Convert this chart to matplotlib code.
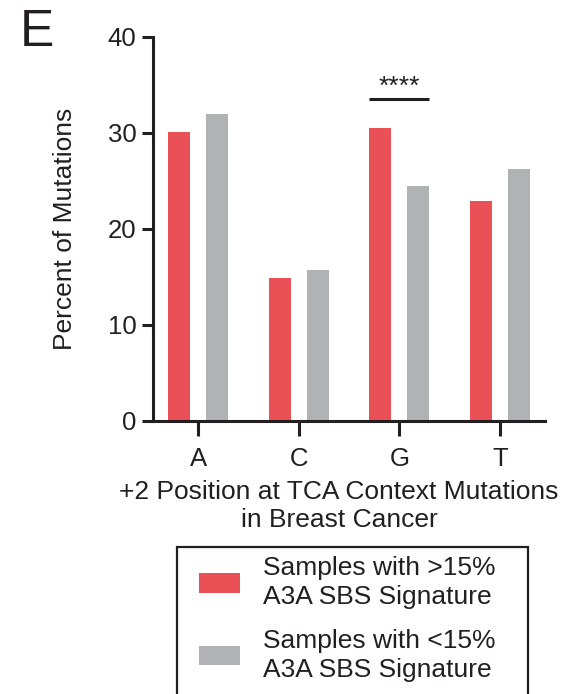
import numpy as np
import matplotlib
matplotlib.use('Agg')
import matplotlib.pyplot as plt
from matplotlib.patches import Rectangle

# data
bases = ['A', 'C', 'G', 'T']
high_a3a = [30.1, 14.9, 30.5, 22.9]   # samples with >15% A3A SBS signature
low_a3a = [32.0, 15.7, 24.5, 26.2]    # samples with <15% A3A SBS signature
sig_label = '****'
sig_base = 'G'
sig_height = 33.5

red = '#E95156'
gray = '#B1B2B4'
ink = '#231F20'

plt.rcParams['font.family'] = ['Liberation Sans', 'DejaVu Sans']
plt.rcParams['text.color'] = ink

fig = plt.figure(figsize=(5.64, 6.94), dpi=100)
ax = fig.add_axes([153 / 564, 1 - 421 / 694, (545 - 153) / 564, (421 - 37) / 694])

x = np.arange(len(bases))
w = 0.216
off = 0.19
b1 = ax.bar(x - off, high_a3a, w, color=red, label='Samples with >15%\nA3A SBS Signature')
b2 = ax.bar(x + off, low_a3a, w, color=gray, label='Samples with <15%\nA3A SBS Signature')

# significance bar
g = bases.index(sig_base)
ax.plot([g - off - w / 2, g + off + w / 2], [sig_height, sig_height], color=ink, lw=2.2,
        solid_capstyle='butt', clip_on=False)
ax.text(g, sig_height + 0.05, sig_label, ha='center', va='bottom', fontsize=19, color=ink)

ax.set_xlim(-0.45, 3.45)
ax.set_ylim(0, 40)
ax.set_yticks([0, 10, 20, 30, 40])
ax.set_xticks(x)
ax.set_xticklabels(bases)

for s in ['top', 'right']:
    ax.spines[s].set_visible(False)
for s in ['left', 'bottom']:
    ax.spines[s].set_linewidth(2.2)
    ax.spines[s].set_color(ink)
    ax.spines[s].set_capstyle('projecting')

ax.tick_params(axis='x', length=11, width=2.2, color=ink, labelsize=18.5, labelcolor=ink, pad=8)
ax.tick_params(axis='y', length=8, width=2.2, color=ink, labelsize=18.5, labelcolor=ink, pad=4)

ax.set_ylabel('Percent of Mutations', fontsize=19, color=ink, labelpad=22)
ax.set_xlabel('+2 Position at TCA Context Mutations\nin Breast Cancer', fontsize=19,
              color=ink, labelpad=6, linespacing=1.22)
ax.xaxis.label.set_x((339 - 153) / 392)

fig.text(20 / 564, 1 - 8 / 694, 'E', fontsize=37, color=ink, ha='left', va='top')

leg = fig.legend(handles=[b1, b2], loc='upper left', bbox_to_anchor=(190 / 564, 1 - 547 / 694),
                 frameon=False, fontsize=19, handlelength=1.55, handleheight=0.75,
                 handletextpad=0.85, borderpad=0.35, labelspacing=0.75, borderaxespad=0)
for t in leg.get_texts():
    t.set_linespacing(1.25)

# legend box runs past the bottom edge, as in the source panel
fig.patches.append(Rectangle((177 / 564, -0.05), (528 - 177) / 564, 0.05 + (694 - 547) / 694,
                             transform=fig.transFigure, fill=False, edgecolor=ink, lw=1.6))

fig.savefig('out.png', dpi=100)
